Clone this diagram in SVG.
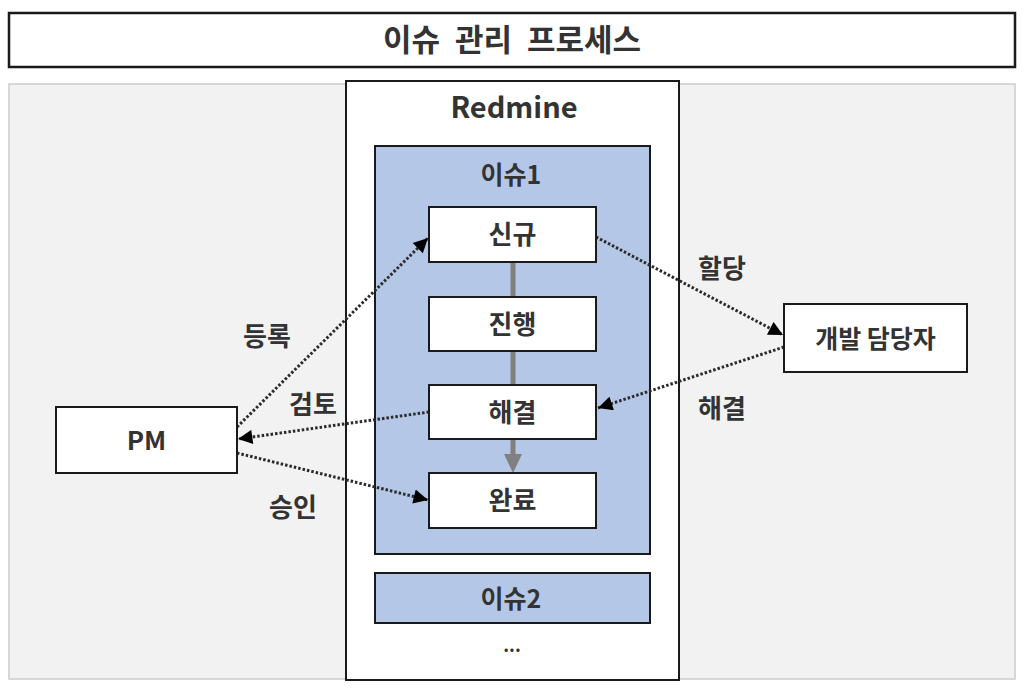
<svg xmlns="http://www.w3.org/2000/svg" width="1028" height="690" viewBox="0 0 1028 690">
  <defs>
    <style>
      .t { font-family: "Noto Sans CJK KR", "Noto Sans", sans-serif; font-weight: 700; fill: #333333; text-anchor: middle; }
      .box { fill: #ffffff; stroke: #1a1a1a; stroke-width: 2; }
      .issue { fill: #b4c7e7; stroke: #1a1a1a; stroke-width: 2; }
      .dot { fill: none; stroke: #2b2b2b; stroke-width: 3; stroke-dasharray: 2.5 2; }
      .flow { fill: none; stroke: #808080; stroke-width: 5; }
    </style>
    <marker id="ah" viewBox="0 0 10 10" refX="10" refY="5" markerWidth="5.5" markerHeight="4.8" markerUnits="strokeWidth" orient="auto">
      <path d="M0,0 L10,5 L0,10 z" fill="#000000"/>
    </marker>
  </defs>

  <rect width="1028" height="690" fill="#ffffff"/>

  <g id="title">
    <rect x="9" y="13" width="1006" height="54" fill="#ffffff" stroke="#1a1a1a" stroke-width="2.5"/>
    <text class="t" x="512" y="51" font-size="31" word-spacing="8">이슈 관리 프로세스</text>
  </g>

  <g id="background">
    <rect x="9" y="84" width="1006" height="595" fill="#f2f2f2" stroke="#cccccc" stroke-width="1.5"/>
  </g>

  <g id="redmine">
    <rect x="346" y="81" width="333" height="599" class="box"/>
    <text class="t" x="514" y="118" font-size="29">Redmine</text>
  </g>

  <g id="issue1">
    <rect x="375" y="146" width="275" height="408" class="issue"/>
    <text class="t" x="511" y="184" font-size="25">이슈1</text>
  </g>

  <g id="issue2">
    <rect x="375" y="573" width="275" height="50" class="issue"/>
    <text class="t" x="511" y="608" font-size="25">이슈2</text>
  </g>

  <g id="more">
    <text class="t" x="512" y="652" font-size="18">...</text>
  </g>

  <g id="connectors">
    <line class="flow" x1="513" y1="262" x2="513" y2="456"/>
    <polygon points="504,454 522,454 513,473" fill="#808080"/>
    <line class="dot" x1="237" y1="427" x2="428" y2="238" marker-end="url(#ah)"/>
    <line class="dot" x1="596" y1="237" x2="783" y2="335" marker-end="url(#ah)"/>
    <line class="dot" x1="784" y1="347" x2="598" y2="408" marker-end="url(#ah)"/>
    <line class="dot" x1="429" y1="412" x2="238" y2="439" marker-end="url(#ah)"/>
    <line class="dot" x1="237" y1="453" x2="428" y2="500" marker-end="url(#ah)"/>
  </g>

  <g id="labels">
    <text class="t" x="722" y="278" font-size="26">할당</text>
    <text class="t" x="722" y="418" font-size="26">해결</text>
    <text class="t" x="267" y="346" font-size="26">등록</text>
    <text class="t" x="313" y="414" font-size="26">검토</text>
    <text class="t" x="293" y="517" font-size="26">승인</text>
  </g>

  <g id="node-new">
    <rect x="429" y="207" width="167" height="55" class="box"/>
    <text class="t" x="512.5" y="244" font-size="26">신규</text>
  </g>
  <g id="node-progress">
    <rect x="429" y="297" width="167" height="54" class="box"/>
    <text class="t" x="512.5" y="333.5" font-size="26">진행</text>
  </g>
  <g id="node-resolved">
    <rect x="429" y="385" width="167" height="54" class="box"/>
    <text class="t" x="512.5" y="421.5" font-size="26">해결</text>
  </g>
  <g id="node-done">
    <rect x="429" y="473" width="167" height="55" class="box"/>
    <text class="t" x="512.5" y="510" font-size="26">완료</text>
  </g>
  <g id="node-pm">
    <rect x="56" y="407" width="181" height="66" class="box"/>
    <text class="t" x="146.5" y="450" font-size="26">PM</text>
  </g>
  <g id="node-dev">
    <rect x="784" y="304" width="183" height="68" class="box"/>
    <text class="t" x="875.5" y="347.5" font-size="25">개발 담당자</text>
  </g>
</svg>
